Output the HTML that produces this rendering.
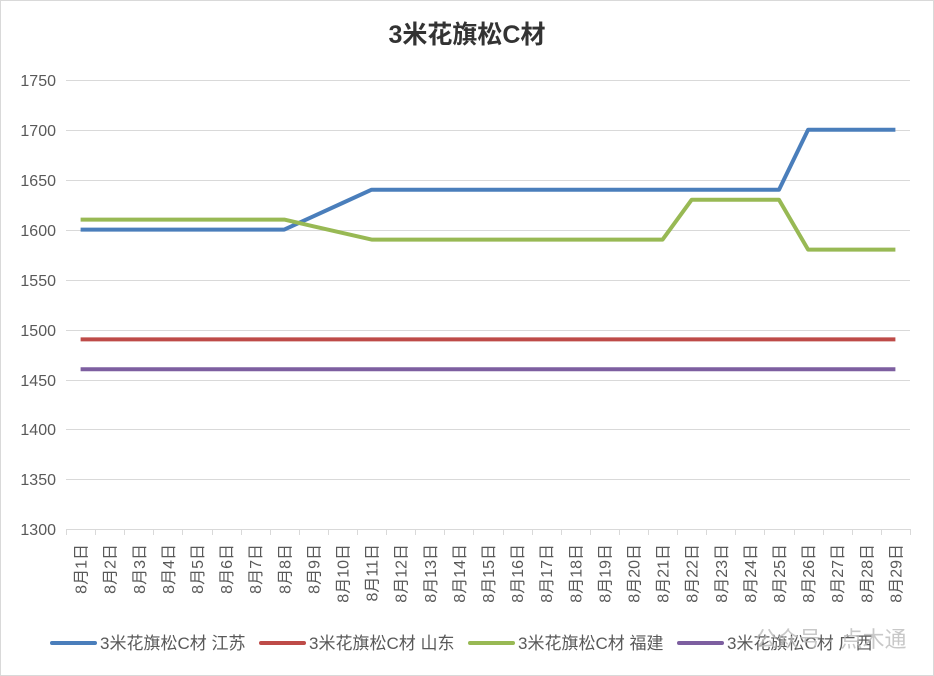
<!DOCTYPE html>
<html><head><meta charset="utf-8"><style>
body{margin:0;background:#fff;}
svg{display:block;font-family:"Liberation Sans","Noto Sans CJK SC",sans-serif;}
</style></head><body>
<svg width="934" height="676" xmlns="http://www.w3.org/2000/svg">
<rect x="0.5" y="0.5" width="933" height="675" fill="#fff" stroke="#d9d9d9"/>
<text x="467" y="43" text-anchor="middle" font-size="25" font-weight="bold" fill="#333">3米花旗松C材</text>
<g stroke="#d9d9d9" stroke-width="1">
<line x1="66" x2="910" y1="80.5" y2="80.5"/>
<line x1="66" x2="910" y1="130.5" y2="130.5"/>
<line x1="66" x2="910" y1="180.5" y2="180.5"/>
<line x1="66" x2="910" y1="230.5" y2="230.5"/>
<line x1="66" x2="910" y1="280.5" y2="280.5"/>
<line x1="66" x2="910" y1="330.5" y2="330.5"/>
<line x1="66" x2="910" y1="380.5" y2="380.5"/>
<line x1="66" x2="910" y1="429.5" y2="429.5"/>
<line x1="66" x2="910" y1="479.5" y2="479.5"/>
<line x1="66" x2="910" y1="529.5" y2="529.5"/>
</g>
<g font-size="16" fill="#595959" text-anchor="end">
<text x="56" y="86">1750</text><text x="56" y="136">1700</text><text x="56" y="186">1650</text>
<text x="56" y="236">1600</text><text x="56" y="286">1550</text><text x="56" y="336">1500</text>
<text x="56" y="386">1450</text><text x="56" y="435">1400</text><text x="56" y="485">1350</text>
<text x="56" y="535">1300</text>
</g>
<g id="ticks" stroke="#d9d9d9"></g>
<g id="labels" font-size="16" fill="#595959"></g>
<g fill="none" stroke-width="4" stroke-linejoin="round">
<polyline id="s1" stroke="#4a7ebb"/>
<polyline id="s2" stroke="#be4b48"/>
<polyline id="s3" stroke="#98b954"/>
<polyline id="s4" stroke="#7d5fa0"/>
</g>
<g font-size="17" fill="#595959">
<line x1="52" x2="95" y1="643" y2="643" stroke="#4a7ebb" stroke-width="4" stroke-linecap="round"/>
<text x="100" y="649">3米花旗松C材 江苏</text>
<line x1="261" x2="304" y1="643" y2="643" stroke="#be4b48" stroke-width="4" stroke-linecap="round"/>
<text x="309" y="649">3米花旗松C材 山东</text>
<line x1="470" x2="513" y1="643" y2="643" stroke="#98b954" stroke-width="4" stroke-linecap="round"/>
<text x="518" y="649">3米花旗松C材 福建</text>
<line x1="679" x2="722" y1="643" y2="643" stroke="#7d5fa0" stroke-width="4" stroke-linecap="round"/>
<text x="727" y="649">3米花旗松C材 广西</text>
</g>
<text x="755" y="647" font-size="22" fill="#bbb" opacity="0.8">公众号 · 点木通</text>
</svg>
<script>
var ns="http://www.w3.org/2000/svg",x0=66,w=(910-66)/29;
var t=document.getElementById('ticks'),l=document.getElementById('labels');
for(var i=0;i<=29;i++){var ln=document.createElementNS(ns,'line');var x=Math.round(x0+i*w)+0.5;ln.setAttribute('x1',x);ln.setAttribute('x2',x);ln.setAttribute('y1',529);ln.setAttribute('y2',535);t.appendChild(ln);}
for(var i=0;i<29;i++){var cx=x0+(i+0.5)*w;var tx=document.createElementNS(ns,'text');tx.setAttribute('transform','translate('+(cx+6)+',544) rotate(-90)');tx.setAttribute('text-anchor','end');tx.textContent='8月'+(i+1)+'日';l.appendChild(tx);}
function y(v){return 529-(v-1300)*0.998;}
function pts(arr){return arr.map(function(v,i){return (x0+(i+0.5)*w).toFixed(1)+','+y(v).toFixed(1);}).join(' ');}
var a=[],b=[],c=[],d=[];
for(var i=1;i<=29;i++){
a.push(i<=8?1600:i==9?1613.3:i==10?1626.7:i<=25?1640:1700);
b.push(1490);
c.push(i<=8?1610:i==9?1603.3:i==10?1596.7:i<=21?1590:i<=25?1630:1580);
d.push(1460);}
document.getElementById('s1').setAttribute('points',pts(a));
document.getElementById('s2').setAttribute('points',pts(b));
document.getElementById('s3').setAttribute('points',pts(c));
document.getElementById('s4').setAttribute('points',pts(d));
</script>
</body></html>
